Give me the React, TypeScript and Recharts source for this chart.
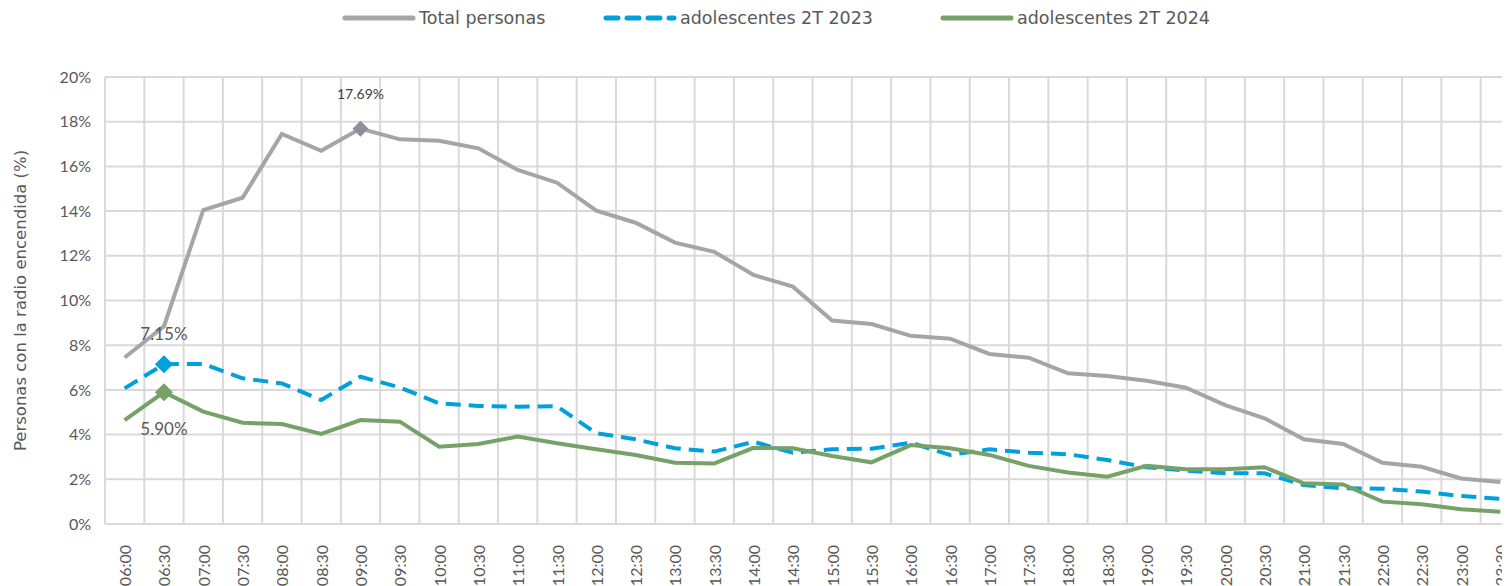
import { CartesianGrid, Line, LineChart, XAxis, YAxis, Label } from "recharts";

const times = [
  "06:00", "06:30", "07:00", "07:30", "08:00", "08:30", "09:00", "09:30", "10:00", "10:30",
  "11:00", "11:30", "12:00", "12:30", "13:00", "13:30", "14:00", "14:30", "15:00", "15:30",
  "16:00", "16:30", "17:00", "17:30", "18:00", "18:30", "19:00", "19:30", "20:00", "20:30",
  "21:00", "21:30", "22:00", "22:30", "23:00", "23:30"
];

const totalPersonas = [
  7.45, 8.85, 14.05, 14.6, 17.45, 16.7, 17.69, 17.21, 17.15, 16.81,
  15.84, 15.27, 14.02, 13.48, 12.59, 12.18, 11.14, 10.62, 9.1, 8.95,
  8.42, 8.29, 7.61, 7.44, 6.74, 6.62, 6.41, 6.1, 5.32, 4.73,
  3.79, 3.58, 2.74, 2.56, 2.04, 1.88
];

const adol2023 = [
  6.07, 7.15, 7.16, 6.52, 6.29, 5.55, 6.59, 6.11, 5.4, 5.28,
  5.25, 5.27, 4.06, 3.79, 3.39, 3.24, 3.68, 3.19, 3.34, 3.37,
  3.64, 3.09, 3.34, 3.19, 3.12, 2.86, 2.54, 2.39, 2.27, 2.27,
  1.74, 1.6, 1.58, 1.45, 1.25, 1.13
];

const adol2024 = [
  4.65, 5.9, 5.03, 4.53, 4.47, 4.03, 4.65, 4.58, 3.46, 3.58,
  3.91, 3.61, 3.34, 3.09, 2.74, 2.71, 3.41, 3.39, 3.04, 2.76,
  3.53, 3.39, 3.09, 2.6, 2.3, 2.12, 2.6, 2.45, 2.45, 2.54,
  1.82, 1.77, 1.0, 0.88, 0.66, 0.55
];

const yTicks = [0, 2, 4, 6, 8, 10, 12, 14, 16, 18, 20];

const data = times.map((t, i) => ({
  time: t,
  total: totalPersonas[i],
  a2023: adol2023[i],
  a2024: adol2024[i]
}));

const FONT = "Lato, 'DejaVu Sans', sans-serif";
const WIDE_FONT = "'DejaVu Sans', sans-serif";
const TEXT = "#595959";

function diamondDot(highlight: number, color: string, r: number) {
  return (props: any) => {
    const { cx, cy, index } = props;
    if (index !== highlight || cx == null) return <g key={index} />;
    return (
      <path
        key={index}
        d={`M${cx},${cy - r}L${cx + r},${cy}L${cx},${cy + r}L${cx - r},${cy}Z`}
        fill={color}
      />
    );
  };
}

function pointLabel(highlight: number, dy: number, size: number, color: string) {
  return (props: any) => {
    const { x, y, index, value } = props;
    if (index !== highlight) return <g key={index} />;
    return (
      <text
        key={index}
        x={x}
        y={y + dy}
        textAnchor="middle"
        dominantBaseline="central"
        fontSize={size}
        fontFamily={FONT}
        fill={color}
      >
        {value.toFixed(2)}%
      </text>
    );
  };
}

const XTick = (props: any) => {
  const { x, y, payload } = props;
  return (
    <text
      x={x}
      y={y}
      transform={`rotate(-90 ${x} ${y + 13})`}
      fontSize={16}
      fontFamily={FONT}
      fill={TEXT}
    >
      <tspan x={x} y={y + 13} textAnchor="end" dominantBaseline="central">
        {payload.value}
      </tspan>
    </text>
  );
};

const legendItems = [
  { name: "Total personas", color: "#a5a5a5", dash: undefined, left: 334 },
  { name: "adolescentes 2T 2023", color: "#00a0dc", dash: "12 9", left: 595 },
  { name: "adolescentes 2T 2024", color: "#76a267", dash: undefined, left: 932 }
];

export default function App() {
  return (
    <div style={{ width: 1502, height: 578, overflow: "hidden", position: "relative", background: "#fff" }}>
      {legendItems.map((item) => (
        <div
          key={item.name}
          style={{
            position: "absolute",
            top: 0,
            left: item.left,
            height: 20,
            display: "flex",
            alignItems: "center",
            fontFamily: WIDE_FONT,
            fontSize: 17.5,
            color: TEXT
          }}
        >
          <svg width={74} height={8} style={{ marginRight: 3 }}>
            <line x1={3} y1={4} x2={71} y2={4} stroke={item.color} strokeWidth={5} strokeDasharray={item.dash} strokeLinecap="round" />
          </svg>
          {item.name}
        </div>
      ))}
      <LineChart
        width={1530}
        height={578}
        data={data}
        margin={{ top: 69, right: 18, bottom: 0, left: 0 }}
      >
        <CartesianGrid
          stroke="#d9d9d9"
          strokeWidth={2}
          verticalCoordinatesGenerator={({ offset }: any) =>
            times.map((_, i) => offset.left + (i * offset.width) / times.length).concat(offset.left + offset.width)
          }
        />
        <XAxis
          dataKey="time"
          scale="band"
          interval={0}
          height={62}
          tickLine={false}
          axisLine={{ stroke: "#d9d9d9", strokeWidth: 2 }}
          tick={<XTick />}
        />
        <YAxis
          domain={[0, 20]}
          ticks={yTicks}
          width={97}
          tickLine={false}
          axisLine={false}
          tickMargin={8}
          tickFormatter={(v: number) => `${v}%`}
          tick={{ fill: TEXT, fontSize: 16, fontFamily: FONT }}
        >
          <Label
            value="Personas con la radio encendida (%)"
            angle={-90}
            position="insideLeft"
            offset={12}
            style={{ textAnchor: "middle", fill: TEXT, fontSize: 16.5, fontFamily: WIDE_FONT }}
          />
        </YAxis>
        <Line
          dataKey="total"
          stroke="#a5a5a5"
          strokeWidth={4}
          isAnimationActive={false}
          dot={diamondDot(6, "#8e8e9c", 8)}
          activeDot={false}
          label={pointLabel(6, -35, 14, "#404040")}
        />
        <Line
          dataKey="a2023"
          stroke="#00a0dc"
          strokeWidth={4}
          strokeDasharray="15 8"
          isAnimationActive={false}
          dot={diamondDot(1, "#00a0dc", 9)}
          activeDot={false}
          label={pointLabel(1, -31, 17, TEXT)}
        />
        <Line
          dataKey="a2024"
          stroke="#76a267"
          strokeWidth={4}
          isAnimationActive={false}
          dot={diamondDot(1, "#76a267", 9)}
          activeDot={false}
          label={pointLabel(1, 36, 17, TEXT)}
        />
      </LineChart>
    </div>
  );
}
